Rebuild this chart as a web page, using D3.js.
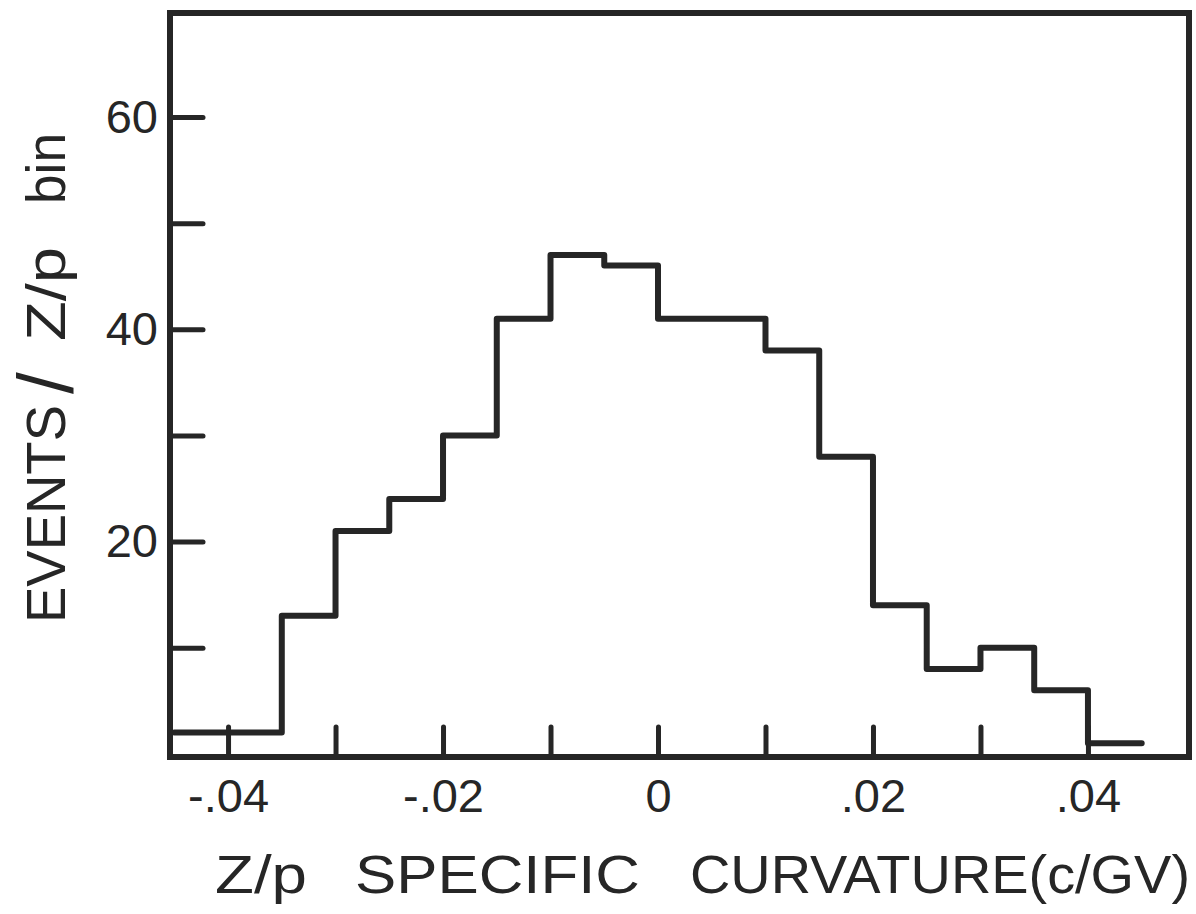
<!DOCTYPE html>
<html lang="en">
<head>
  <meta charset="UTF-8" />
  <title>Z/p specific curvature histogram</title>
  <script src="https://d3js.org/d3.v7.min.js"></script>
  <style>
    body {
      margin: 0;
      background: #fff;
      font-family: "Liberation Sans", Arial, sans-serif;
    }
    svg text {
      fill: #262626;
    }
  </style>
</head>
<body>
<svg id="chart"></svg>

<script>
// bin edges (c/GV) and events per bin
const binEdges = [-0.045, -0.04, -0.035, -0.03, -0.025, -0.02, -0.015, -0.01, -0.005,
                  0, 0.005, 0.01, 0.015, 0.02, 0.025, 0.03, 0.035, 0.04, 0.045];
const counts = [2, 2, 13, 21, 24, 30, 41, 47, 46, 41, 41, 38, 28, 14, 8, 10, 6, 1];

const xTicks = [-0.04, -0.03, -0.02, -0.01, 0, 0.01, 0.02, 0.03, 0.04];
const xTickLabels = {"-0.04": "-.04", "-0.02": "-.02", "0": "0", "0.02": ".02", "0.04": ".04"};
const yTicks = [10, 20, 30, 40, 50, 60];
const yTickLabels = [20, 40, 60];

// title pieces: [text, start, length] in px along the reading direction
const xTitleParts = [["Z/p", 215, 92], ["SPECIFIC", 355, 285], ["CURVATURE(c/GV)", 690, 500]];
const yTitleParts = [["EVENTS", 623, 218], ["Z/p", 341, 94], ["bin", 204, 71]];

const width = 1196, height = 914;
const plot = {left: 170, right: 1189, top: 13, bottom: 757};
const ink = "#262626";

const svg = d3.select("#chart").attr("width", width).attr("height", height);

const x = d3.scaleLinear().domain([-0.0454, 0.0494]).range([plot.left, plot.right]);
const y = d3.scaleLinear().domain([-0.3, 69.8]).range([plot.bottom, plot.top]);

// axes: ticks point inward from the frame
const yAxis = d3.axisLeft(y)
  .tickValues(yTicks)
  .tickSizeInner(-33)
  .tickSizeOuter(0)
  .tickPadding(12)
  .tickFormat(d => yTickLabels.includes(d) ? d : "");

const xAxis = d3.axisBottom(x)
  .tickValues(xTicks)
  .tickSizeInner(-30)
  .tickSizeOuter(0)
  .tickPadding(22)
  .tickFormat(d => xTickLabels[String(d)] || "");

const gy = svg.append("g")
  .attr("transform", `translate(${plot.left},0)`)
  .call(yAxis);

const gx = svg.append("g")
  .attr("transform", `translate(0,${plot.bottom})`)
  .call(xAxis);

[gx, gy].forEach(g => {
  g.select(".domain").remove();
  g.selectAll(".tick line")
    .attr("stroke", ink)
    .attr("stroke-width", 5)
    .attr("stroke-linecap", "round");
  g.selectAll(".tick text")
    .attr("fill", ink)
    .attr("font-family", "Liberation Sans, Arial, sans-serif")
    .attr("font-size", 47);
});

// histogram outline
const pts = counts.map((c, i) => [binEdges[i], c]);
pts.push([binEdges[binEdges.length - 1], counts[counts.length - 1]]);

const step = d3.line()
  .x(d => x(d[0]))
  .y(d => y(d[1]))
  .curve(d3.curveStepAfter);

svg.append("path")
  .datum(pts)
  .attr("d", step)
  .attr("fill", "none")
  .attr("stroke", ink)
  .attr("stroke-width", 6)
  .attr("stroke-linejoin", "round")
  .attr("stroke-linecap", "round");

// frame
svg.append("rect")
  .attr("x", plot.left)
  .attr("y", plot.top)
  .attr("width", plot.right - plot.left)
  .attr("height", plot.bottom - plot.top)
  .attr("fill", "none")
  .attr("stroke", ink)
  .attr("stroke-width", 6);

// axis titles
svg.append("g")
  .selectAll("text")
  .data(xTitleParts)
  .join("text")
  .attr("x", d => d[1])
  .attr("y", 893)
  .attr("font-size", 53)
  .attr("textLength", d => d[2])
  .attr("lengthAdjust", "spacingAndGlyphs")
  .text(d => d[0]);

const yTitle = svg.append("g")
  .attr("transform", "translate(65,0) rotate(-90)");

yTitle.selectAll("text")
  .data(yTitleParts)
  .join("text")
  .attr("x", d => -d[1])
  .attr("y", 0)
  .attr("font-size", 56)
  .attr("textLength", d => d[2])
  .attr("lengthAdjust", "spacingAndGlyphs")
  .text(d => d[0]);

// the big separating slash
yTitle.append("text")
  .attr("x", -394)
  .attr("y", 8)
  .attr("font-size", 78)
  .text("/");
</script>
</body>
</html>
